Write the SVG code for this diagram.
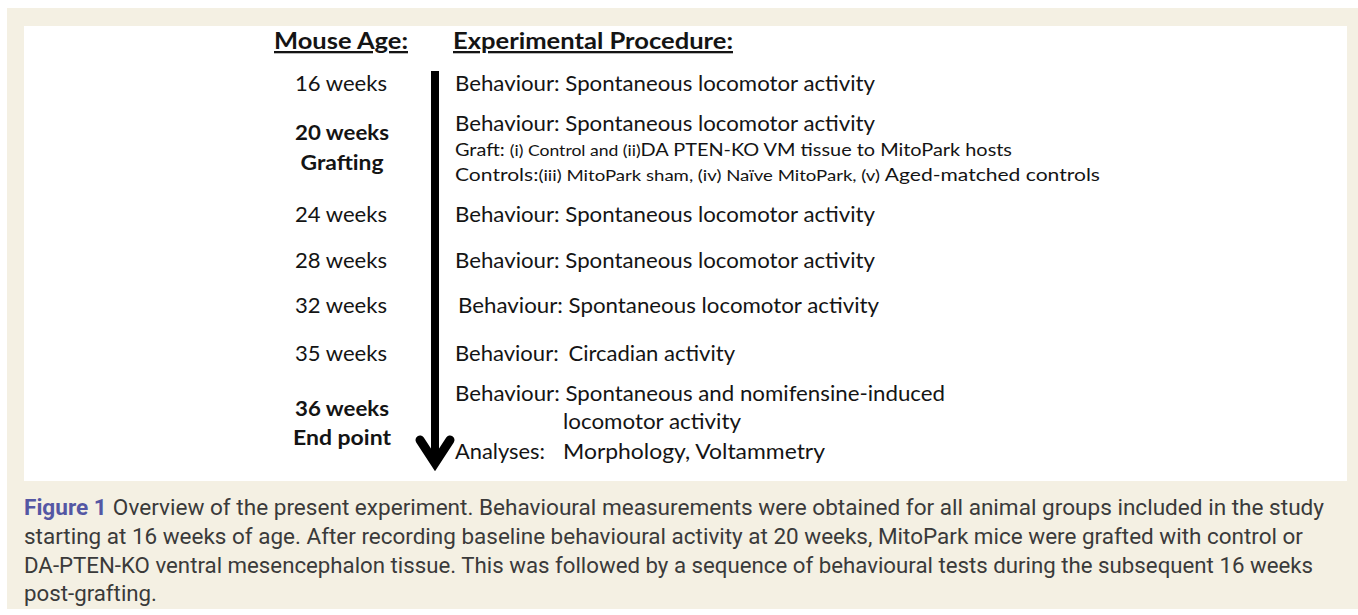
<svg xmlns="http://www.w3.org/2000/svg" width="1358" height="615" viewBox="0 0 1358 615">
<style>
  .d { font-family: Lato, "Open Sans", "Liberation Sans", sans-serif; fill: #141414; }
  .h { font-size: 23px; font-weight: bold; text-decoration: underline; }
  .age { font-size: 21px; text-anchor: middle; }
  .b { font-weight: bold; }
  .p { font-size: 21px; }
  .s { font-size: 17px; }
  .xs { font-size: 15px; }
  .cap { font-family: Roboto, "Liberation Sans", sans-serif; font-size: 22px; fill: #3a3a3a; }
  .fig { fill: #5457a4; font-weight: bold; }
</style>
<rect x="0" y="0" width="1358" height="615" fill="#ffffff"/>
<rect x="7" y="8" width="1351" height="601" fill="#f4f0e3"/>
<rect x="24" y="26" width="1323" height="455" fill="#ffffff"/>

<g id="headers" class="d">
  <text class="h" x="274" y="49" textLength="134" lengthAdjust="spacingAndGlyphs">Mouse Age:</text>
  <text class="h" x="453" y="49" textLength="280" lengthAdjust="spacingAndGlyphs">Experimental Procedure:</text>
</g>

<g id="connectors">
  <line x1="435" y1="71" x2="435" y2="462" stroke="#000" stroke-width="8"/>
  <polyline points="420,440 435,463 450,440" fill="none" stroke="#000" stroke-width="9" stroke-linejoin="miter" stroke-linecap="round"/>
</g>

<g id="week16" class="d">
  <text class="age" x="341" y="91" textLength="92" lengthAdjust="spacingAndGlyphs">16 weeks</text>
  <text class="p" x="455" y="91" textLength="420" lengthAdjust="spacingAndGlyphs">Behaviour: Spontaneous locomotor activity</text>
</g>

<g id="week20" class="d">
  <text class="age b" x="342" y="140" textLength="94" lengthAdjust="spacingAndGlyphs">20 weeks</text>
  <text class="age b" x="342" y="170" textLength="83" lengthAdjust="spacingAndGlyphs">Grafting</text>
  <text class="p" x="455" y="131" textLength="420" lengthAdjust="spacingAndGlyphs">Behaviour: Spontaneous locomotor activity</text>
  <text class="s" x="455" y="156" textLength="557" lengthAdjust="spacingAndGlyphs">Graft: <tspan class="xs">(i) Control and (ii)</tspan>DA PTEN-KO VM tissue to MitoPark hosts</text>
  <text class="s" x="455" y="181" textLength="645" lengthAdjust="spacingAndGlyphs">Controls:<tspan class="xs">(iii) MitoPark sham, (iv) Naïve MitoPark, (v) </tspan>Aged-matched controls</text>
</g>

<g id="week24" class="d">
  <text class="age" x="341" y="222" textLength="92" lengthAdjust="spacingAndGlyphs">24 weeks</text>
  <text class="p" x="455" y="222" textLength="420" lengthAdjust="spacingAndGlyphs">Behaviour: Spontaneous locomotor activity</text>
</g>

<g id="week28" class="d">
  <text class="age" x="341" y="268" textLength="92" lengthAdjust="spacingAndGlyphs">28 weeks</text>
  <text class="p" x="455" y="268" textLength="420" lengthAdjust="spacingAndGlyphs">Behaviour: Spontaneous locomotor activity</text>
</g>

<g id="week32" class="d">
  <text class="age" x="341" y="313" textLength="92" lengthAdjust="spacingAndGlyphs">32 weeks</text>
  <text class="p" x="458" y="313" textLength="421" lengthAdjust="spacingAndGlyphs">Behaviour: Spontaneous locomotor activity</text>
</g>

<g id="week35" class="d">
  <text class="age" x="341" y="361" textLength="92" lengthAdjust="spacingAndGlyphs">35 weeks</text>
  <text class="p" x="455" y="361" textLength="280" lengthAdjust="spacingAndGlyphs">Behaviour: <tspan dx="4">Circadian activity</tspan></text>
</g>

<g id="week36" class="d">
  <text class="age b" x="342" y="416" textLength="94" lengthAdjust="spacingAndGlyphs">36 weeks</text>
  <text class="age b" x="342" y="445" textLength="98" lengthAdjust="spacingAndGlyphs">End point</text>
  <text class="p" x="455" y="401" textLength="490" lengthAdjust="spacingAndGlyphs">Behaviour: Spontaneous and nomifensine-induced</text>
  <text class="p" x="563" y="429" textLength="178" lengthAdjust="spacingAndGlyphs">locomotor activity</text>
  <text class="p" x="455" y="459" textLength="90" lengthAdjust="spacingAndGlyphs">Analyses:</text>
  <text class="p" x="563" y="459" textLength="262" lengthAdjust="spacingAndGlyphs">Morphology, Voltammetry</text>
</g>

<g id="caption">
  <text class="cap" x="24" y="515" textLength="1300" lengthAdjust="spacingAndGlyphs"><tspan class="fig">Figure 1</tspan><tspan dx="6">Overview of the present experiment. Behavioural measurements were obtained for all animal groups included in the study</tspan></text>
  <text class="cap" x="24" y="544" textLength="1279" lengthAdjust="spacingAndGlyphs">starting at 16 weeks of age. After recording baseline behavioural activity at 20 weeks, MitoPark mice were grafted with control or</text>
  <text class="cap" x="24" y="573" textLength="1289" lengthAdjust="spacingAndGlyphs">DA-PTEN-KO ventral mesencephalon tissue. This was followed by a sequence of behavioural tests during the subsequent 16 weeks</text>
  <text class="cap" x="24" y="601" textLength="133" lengthAdjust="spacingAndGlyphs">post-grafting.</text>
</g>
</svg>
